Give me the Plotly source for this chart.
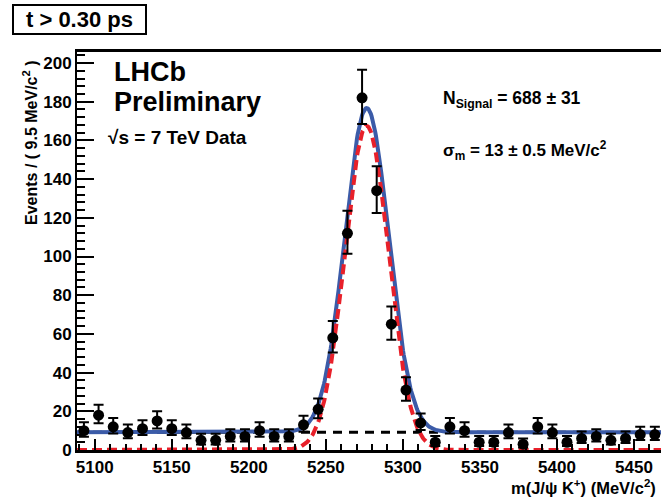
import numpy as np
import plotly.graph_objects as go

# ---- data ----
mass_centers = [5093.0, 5102.5, 5112.0, 5121.5, 5131.0, 5140.5, 5150.0, 5159.5, 5169.0, 5178.5,
                5188.0, 5197.5, 5207.0, 5216.5, 5226.0, 5235.5, 5245.0, 5254.5, 5264.0, 5273.5,
                5283.0, 5292.5, 5302.0, 5311.5, 5321.0, 5330.5, 5340.0, 5349.5, 5359.0, 5368.5,
                5378.0, 5387.5, 5397.0, 5406.5, 5416.0, 5425.5, 5435.0, 5444.5, 5454.0, 5463.5]
counts = [10, 18, 12, 9, 11, 15, 11, 9, 5, 5,
          7, 7, 10, 7, 7, 13, 21, 58, 112, 182,
          134, 65, 31, 14, 4, 12, 10, 4, 4, 9,
          3, 12, 9, 4, 6, 7, 5, 6, 8, 8]
err_hi = [4.28, 5.33, 4.57, 4.12, 4.43, 4.97, 4.43, 4.12, 3.40, 3.40,
          3.78, 3.78, 4.28, 3.78, 3.78, 4.71, 5.66, 8.66, 11.62, 14.52,
          12.61, 9.11, 6.63, 4.84, 3.18, 4.57, 4.28, 3.18, 3.18, 4.12,
          2.94, 4.57, 4.12, 3.18, 3.60, 3.78, 3.40, 3.60, 3.96, 3.96]
err_lo = [3.20, 4.21, 3.43, 2.96, 3.28, 3.84, 3.28, 2.96, 2.18, 2.18,
          2.60, 2.60, 3.20, 2.60, 2.60, 3.57, 4.56, 7.60, 10.57, 13.48,
          11.57, 8.05, 5.55, 3.71, 1.94, 3.43, 3.20, 1.94, 1.94, 2.96,
          1.66, 3.43, 2.96, 1.94, 2.40, 2.60, 2.18, 2.40, 2.78, 2.78]

# fit model parameters
signal_mean = 5276.5
signal_sigma = 14.2
signal_peak = 167.5
bkg_level = 9.2

x_range = [5088.5, 5467.5]
y_range = [0, 205.7]
x_ticks = [5100, 5150, 5200, 5250, 5300, 5350, 5400, 5450]

m = np.linspace(x_range[0], x_range[1], 800)
sig = signal_peak * np.exp(-0.5 * ((m - signal_mean) / signal_sigma) ** 2)
bkg = np.full_like(m, bkg_level)
total = sig + bkg

BLUE = "#3b5ba8"
RED = "#e8202a"
FONT = "Liberation Sans"

fig = go.Figure()
fig.add_trace(go.Scatter(x=m, y=bkg, mode="lines",
                         line=dict(color="black", width=3, dash="9px,7px")))
fig.add_trace(go.Scatter(x=m, y=total, mode="lines",
                         line=dict(color=BLUE, width=4)))
fig.add_trace(go.Scatter(x=m, y=sig, mode="lines",
                         line=dict(color=RED, width=4, dash="10px,5px")))
fig.add_trace(go.Scatter(x=mass_centers, y=counts, mode="markers",
                         marker=dict(color="black", size=11),
                         error_y=dict(type="data", symmetric=False, array=err_hi,
                                      arrayminus=err_lo, color="black",
                                      thickness=2, width=5)))

L, R, T, B = 77, 661, 52, 450


def px(x):
    return (x - L) / (R - L)


def py(y):
    return (B - y) / (B - T)


bold = dict(family=FONT, color="black", weight="bold")

annotations = [
    dict(text="t > 0.30 ps", x=px(12), y=py(4), xanchor="left", yanchor="top",
         width=129, height=25, bordercolor="black", borderwidth=2, borderpad=1,
         bgcolor="white", font=dict(size=22, **bold), showarrow=False),
    dict(text="LHCb", x=px(112), y=py(72.5), xanchor="left", yanchor="middle",
         font=dict(size=27, **bold), showarrow=False),
    dict(text="Preliminary", x=px(112), y=py(102), xanchor="left", yanchor="middle",
         font=dict(size=27, **bold), showarrow=False),
    dict(text="\u221as = 7 TeV Data", x=px(106), y=py(137), xanchor="left", yanchor="middle",
         font=dict(size=19, **bold), showarrow=False),
    dict(text="N<sub>Signal</sub> = 688 \u00b1 31", x=px(441), y=py(100), xanchor="left",
         yanchor="middle", font=dict(size=17.5, **bold), showarrow=False),
    dict(text="\u03c3<sub>m</sub> = 13 \u00b1 0.5 MeV/c<sup>2</sup>", x=px(441), y=py(150),
         xanchor="left", yanchor="middle", font=dict(size=17, **bold), showarrow=False),
    dict(text="Events / ( 9.5 MeV/c<sup>2</sup> )", x=px(30), y=py(143), textangle=-90,
         xanchor="center", yanchor="middle", font=dict(size=16, **bold), showarrow=False),
    dict(text="m(J/\u03c8 K<sup>+</sup>) (MeV/c<sup>2</sup>)", x=px(658), y=py(487),
         xanchor="right", yanchor="middle", font=dict(size=16.5, **bold), showarrow=False),
]
for a in annotations:
    a.update(xref="paper", yref="paper")

fig.update_layout(
    width=661, height=501,
    margin=dict(l=L, r=661 - R, t=T, b=501 - B),
    plot_bgcolor="white", paper_bgcolor="white",
    showlegend=False,
    font=dict(family=FONT, color="black"),
    annotations=annotations,
    xaxis=dict(range=x_range, tickvals=x_ticks, ticks="inside", ticklen=11, tickwidth=2,
               tickcolor="black", showline=True, linewidth=2.5, linecolor="black",
               mirror=True, showgrid=False, zeroline=False,
               tickfont=dict(size=17, **bold),
               minor=dict(ticks="inside", dtick=10, tick0=5100, ticklen=6, tickwidth=2,
                          tickcolor="black", showgrid=False)),
    yaxis=dict(range=y_range, dtick=20, tick0=0, ticks="inside", ticklen=17, tickwidth=2,
               tickcolor="black", showline=True, linewidth=2, linecolor="black",
               mirror=False, showgrid=False, zeroline=False,
               tickfont=dict(size=17, **bold),
               minor=dict(ticks="inside", dtick=4, tick0=0, ticklen=8, tickwidth=2,
                          tickcolor="black", showgrid=False)),
)

fig.write_html("out.html", config={"displayModeBar": False},
               post_script="document.body.style.margin='0';document.body.style.overflow='hidden';")
